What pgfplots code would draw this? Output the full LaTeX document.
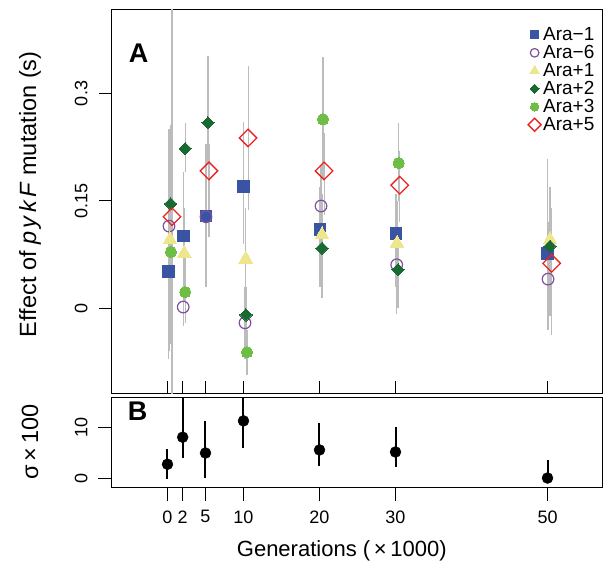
\documentclass[border=0pt]{standalone}
\usepackage{pgfplots}
\pgfplotsset{compat=1.18}
\usepackage{pgfplotstable}
\usepackage{fontspec}
\setmainfont{Liberation Sans}
\usetikzlibrary{plotmarks}

\definecolor{cAm1}{RGB}{58,84,164}
\definecolor{cAm6}{RGB}{125,80,160}
\definecolor{cAp1}{RGB}{238,230,140}
\definecolor{cAp2}{RGB}{25,105,50}
\definecolor{cAp3}{RGB}{110,190,70}
\definecolor{cAp5}{RGB}{235,35,35}
\definecolor{barg}{RGB}{188,188,188}

% x = generation (x1000, slightly jittered), y = effect, hi/lo = ends of the grey bar
\pgfplotstableread{
x y hi lo
0.16 0.052 0.18 -0.07
2.07 0.101 0.19 -0.02
5.07 0.129 0.23 0.03
10.03 0.170 0.26 0.09
20.07 0.110 0.17 0.03
30.07 0.105 0.16 0.03
50.03 0.077 0.208 -0.02
}\araMone
\pgfplotstableread{
x y hi lo
0.20 0.115 0.25 -0.06
2.07 0.002 0.04 -0.025
5.07 0.128 0.20 0.05
10.20 -0.020 0.03 -0.07
20.20 0.143 0.20 0.07
30.16 0.061 0.12 -0.007
50.07 0.041 0.12 -0.03
}\araMsix
\pgfplotstableread{
x y hi lo
0.33 0.096 0.22 -0.02
2.20 0.077 0.14 0.01
10.30 0.069 0.14 0.00
20.33 0.103 0.16 0.04
30.20 0.091 0.15 0.02
50.33 0.096 0.17 0.02
}\araPone
\pgfplotstableread{
x y hi lo
0.42 0.146 0.256 -0.04
2.33 0.223 0.259 0.19
5.33 0.259 0.352 0.20
10.33 -0.009 0.03 -0.05
20.33 0.084 0.14 0.015
30.33 0.054 0.10 0.00
50.33 0.087 0.15 -0.01
}\araPtwo
\pgfplotstableread{
x y hi lo
0.46 0.079 0.20 -0.05
2.33 0.023 0.07 -0.02
10.46 -0.061 -0.03 -0.093
20.46 0.264 0.351 0.18
30.42 0.203 0.259 0.15
}\araPthree
\pgfplotstableread{
x y hi lo
0.60 0.128 0.50 -0.20
5.46 0.192 0.23 0.10
10.60 0.238 0.338 0.137
20.60 0.192 0.245 0.13
30.55 0.172 0.22 0.12
50.55 0.063 0.14 -0.037
}\araPfive
\pgfplotstableread{
x y hi lo
0 2.7 5.7 -0.2
2 8.0 20 3.9
5 4.9 11.2 0
10 11.2 20 5.9
20 5.5 10.8 2.4
30 5.1 10.0 2.2
50 0.0 3.5 -0.2
}\sigmaTab

\pgfplotsset{
  greybar/.style={forget plot, draw=none, mark=none,
    error bars/.cd, y dir=both, y explicit, error mark=none,
    error bar style={draw=barg, line width=1.1pt}},
}

\begin{document}
\begin{tikzpicture}
\useasboundingbox (0,0) rectangle (606pt,566pt);
% ---------- Panel A ----------
\begin{axis}[
  at={(112pt,172pt)}, anchor=south west, scale only axis,
  width=491pt, height=384pt,
  xmin=-7.3, xmax=57.3, ymin=-0.1193, ymax=0.4165,
  xtick={0,2,5,10,20,30,50}, xticklabels={},
  xtick pos=bottom, ytick pos=left,
  xtick align=inside, ytick align=outside,
  ytick={0,0.15,0.3}, yticklabels={0,0.15,0.3},
  major tick length=13pt,
  axis line style={line width=1pt},
  every tick/.style={black, line width=1pt},
  /pgf/number format/assume math mode=true,
  tick label style={font=\fontsize{18}{18}\selectfont},
  yticklabel style={rotate=90, anchor=south},
  yticklabel shift=8pt,
  ylabel={Effect of \textit{p\hspace{0.15em}y\hspace{0.15em}k\hspace{0.15em}F} mutation (s)},
  ylabel style={at={(axis description cs:-0.167,0.52)}, anchor=center, rotate=0,
    font=\fontsize{23.5}{24}\selectfont},
  legend style={draw=none, fill=none, at={(axis description cs:0.993,0.96)},
    anchor=north east, font=\fontsize{19}{20}\selectfont, row sep=3.3pt,
    nodes={inner ysep=0pt}},
  legend cell align=left,
]
\addplot[greybar] table[x=x, y=y, y error plus expr={\thisrow{hi}-\thisrow{y}}, y error minus expr={\thisrow{y}-\thisrow{lo}}] {\araMone};
\addplot[greybar] table[x=x, y=y, y error plus expr={\thisrow{hi}-\thisrow{y}}, y error minus expr={\thisrow{y}-\thisrow{lo}}] {\araMsix};
\addplot[greybar] table[x=x, y=y, y error plus expr={\thisrow{hi}-\thisrow{y}}, y error minus expr={\thisrow{y}-\thisrow{lo}}] {\araPone};
\addplot[greybar] table[x=x, y=y, y error plus expr={\thisrow{hi}-\thisrow{y}}, y error minus expr={\thisrow{y}-\thisrow{lo}}] {\araPtwo};
\addplot[greybar] table[x=x, y=y, y error plus expr={\thisrow{hi}-\thisrow{y}}, y error minus expr={\thisrow{y}-\thisrow{lo}}] {\araPthree};
\addplot[greybar] table[x=x, y=y, y error plus expr={\thisrow{hi}-\thisrow{y}}, y error minus expr={\thisrow{y}-\thisrow{lo}}] {\araPfive};

\addplot[only marks, mark=square*, mark size=5.8pt, mark options={draw=cAm1, fill=cAm1, line width=0pt},
  legend image post style={mark size=4pt}] table[x=x,y=y] {\araMone};
\addlegendentry{Ara−1}
\addplot[only marks, mark=o, mark size=5.8pt, mark options={draw=cAm6, line width=1.2pt},
  legend image post style={mark size=4.3pt}] table[x=x,y=y] {\araMsix};
\addlegendentry{Ara−6}
\addplot[only marks, mark=triangle*, mark size=8pt, mark options={draw=cAp1, fill=cAp1, line width=0pt},
  legend image post style={mark size=5.5pt}] table[x=x,y=y] {\araPone};
\addlegendentry{Ara+1}
\addplot[only marks, mark=square*, mark size=4.3pt, mark options={rotate=45, draw=cAp2, fill=cAp2, line width=0pt},
  legend image post style={mark size=3.2pt}] table[x=x,y=y] {\araPtwo};
\addlegendentry{Ara+2}
\addplot[only marks, mark=*, mark size=5.6pt, mark options={draw=cAp3, fill=cAp3, line width=0pt},
  legend image post style={mark size=4.2pt}] table[x=x,y=y] {\araPthree};
\addlegendentry{Ara+3}
\addplot[only marks, mark=square, mark size=6.2pt, mark options={rotate=45, draw=cAp5, line width=1.3pt},
  legend image post style={mark size=4.6pt}] table[x=x,y=y] {\araPfive};
\addlegendentry{Ara+5}

\node[font=\fontsize{27}{27}\selectfont\bfseries] at (rel axis cs:0.054,0.888) {A};
\end{axis}
% ---------- Panel B ----------
\begin{axis}[
  at={(112pt,79pt)}, anchor=south west, scale only axis,
  width=491pt, height=90pt,
  xmin=-7.3, xmax=57.3, ymin=-1.76, ymax=15.88,
  xtick={0,2,5,10,20,30,50},
  ytick={0,10},
  xtick pos=bottom, ytick pos=left,
  tick align=outside,
  major tick length=14pt,
  axis line style={line width=1pt},
  every tick/.style={black, line width=1pt},
  /pgf/number format/assume math mode=true,
  tick label style={font=\fontsize{18}{18}\selectfont},
  xticklabel shift=6pt,
  yticklabel style={rotate=90, anchor=south},
  yticklabel shift=7pt,
  xlabel={Generations (\,×\,1000)},
  xlabel style={at={(axis description cs:0.468,-0.711)}, anchor=center,
    font=\fontsize{22}{22}\selectfont},
  ylabel={σ\,×\,100},
  ylabel style={at={(axis description cs:-0.167,0.5)}, anchor=center,
    font=\fontsize{23.5}{24}\selectfont},
]
\addplot[only marks, mark=*, mark size=5.5pt, mark options={black, fill=black},
  error bars/.cd, y dir=both, y explicit, error mark=none,
  error bar style={black, line width=2pt}]
  table[x=x, y=y, y error plus expr={\thisrow{hi}-\thisrow{y}}, y error minus expr={\thisrow{y}-\thisrow{lo}}] {\sigmaTab};
\node[font=\fontsize{27}{27}\selectfont\bfseries] at (rel axis cs:0.052,0.84) {B};
\end{axis}
\end{tikzpicture}
\end{document}
